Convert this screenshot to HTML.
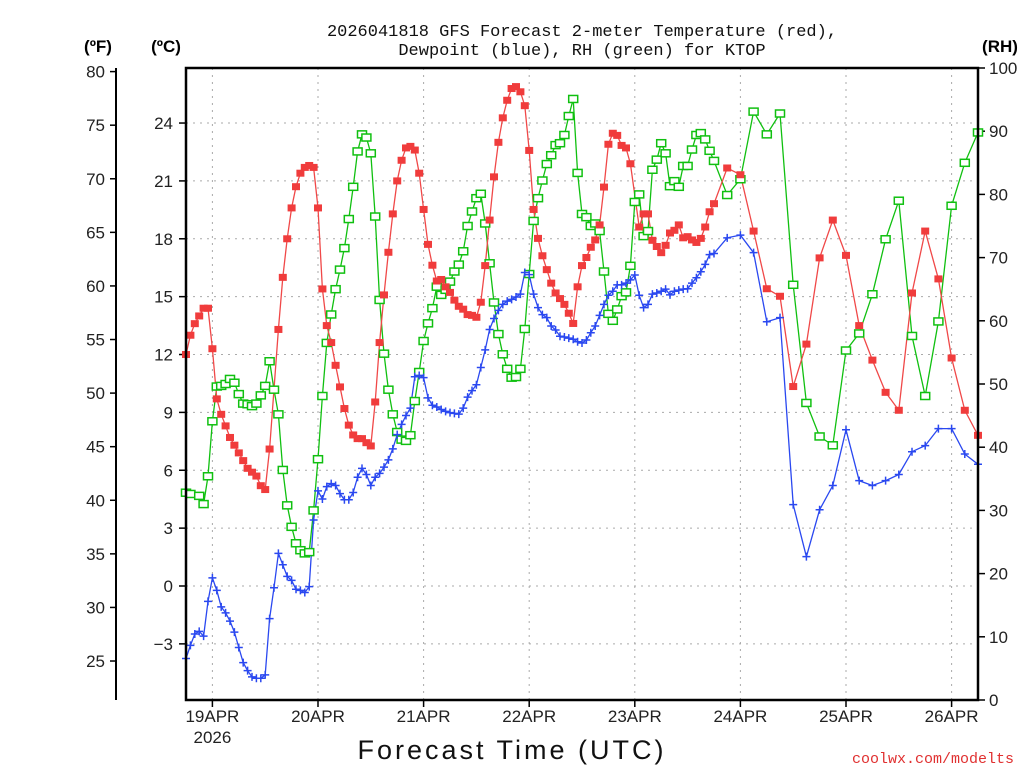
<!DOCTYPE html>
<html><head><meta charset="utf-8"><style>
body{margin:0;background:#fff;}
svg{display:block;font-family:"Liberation Sans",sans-serif;}
</style></head><body>
<svg id="chart" width="1024" height="768" viewBox="0 0 1024 768" xmlns="http://www.w3.org/2000/svg">
<rect width="1024" height="768" fill="#fff"/>
<text x="582" y="36" font-size="17" text-anchor="middle" fill="#111" font-family="Liberation Mono, monospace">2026041818 GFS Forecast 2-meter Temperature (red),</text>
<text x="582" y="55" font-size="17" text-anchor="middle" fill="#111" font-family="Liberation Mono, monospace">Dewpoint (blue), RH (green) for KTOP</text>
<text x="98" y="52" font-size="17" font-weight="bold" text-anchor="middle">(ºF)</text>
<text x="166" y="52" font-size="17" font-weight="bold" text-anchor="middle">(ºC)</text>
<text x="1000" y="52" font-size="17" font-weight="bold" text-anchor="middle">(RH)</text>
<g id="grid"></g>
<g id="axes"></g>
<g id="series"></g>
<rect x="186" y="68" width="792" height="632" fill="none" stroke="#000" stroke-width="2.5"/>
<text x="512" y="759" font-size="27" text-anchor="middle" fill="#111" letter-spacing="3">Forecast Time (UTC)</text>
<text x="1014" y="763" font-size="15" text-anchor="end" fill="#e03030" font-family="Liberation Mono, monospace">coolwx.com/modelts</text>
</svg>
<script>
// ---- data ----
const tempHours=[0,1,2,3,4,5,6,7,8,9,10,11,12,13,14,15,16,17,18,19,21,22,23,24,25,26,27,28,29,30,31,32,33,34,35,36,37,38,39,40,41,42,43,44,45,46,47,48,49,50,51,52,53,54,55,56,57,58,59,60,61,62,63,64,65,66,67,68,69,70,71,72,73,74,75,76,77,78,79,80,81,82,83,84,85,86,87,88,89,90,91,92,93,94,95,96,97,98,99,100,101,103,104,105,106,107,108,109,110,111,112,113,114,115,116,117,118,119,120,123,126,129,132,135,138,141,144,147,150,153,156,159,162,165,168,171,174,177,180];
const tempC=[12.0,13.0,13.6,14.0,14.4,14.4,12.3,9.7,8.9,8.3,7.7,7.3,6.9,6.5,6.1,5.9,5.7,5.2,5.0,7.1,
13.3,16.0,18.0,19.6,20.7,21.4,21.7,21.8,21.7,19.6,15.4,13.5,
12.62,11.44,10.32,9.20,8.34,7.83,7.64,7.64,7.43,7.26,9.54,12.62,15.09,17.30,19.29,21.0,22.07,22.71,22.79,22.60,21.40,19.52,17.71,16.63,15.81,15.89,15.51,15.22,14.82,14.50,14.35,14.07,
14.03,
13.93,14.71,16.61,18.97,21.21,23.0,24.27,25.18,25.79,25.89,25.62,24.90,22.58,19.52,18.02,17.12,16.40,15.70,15.19,14.90,14.60,14.14,13.61,15.51,16.61,17.03,17.56,17.94,18.72,
20.68,22.90,23.47,23.36,22.84,22.71,21.89,
18.61,19.29,19.29,17.92,17.60,17.28,17.66,18.30,18.44,18.72,18.05,18.11,17.94,17.81,18.02,18.61,19.40,19.82,
21.67,21.32,18.40,15.41,15.02,10.34,12.54,17.01,18.97,17.14,13.50,11.71,10.04,9.11,15.19,18.40,15.92,11.82,9.11,7.81];
const rhHours=[0,1,3,4,5,6,7,8,9,10,11,12,13,14,15,16,17,18,19,20,21,22,23,24,25,26,27,28,29,30,31,32,33,34,35,36,37,38,39,40,41,42,43,44,45,46,47,48,49,50,51,52,53,54,55,56,57,58,59,60,61,62,63,64,65,66,67,68,69,70,71,72,73,74,75,76,77,78,79,80,81,82,83,84,85,86,87,88,89,90,91,92,93,94,95,96,97,98,99,100,101,102,103,104,105,106,107,108,109,110,111,112,113,114,115,116,117,118,119,120,123,126,129,132,135,138,141,144,147,150,153,156,159,162,165,168,171,174,177,180];
const rhPct=[32.8,32.6,32.3,31.0,35.4,44.1,49.6,49.7,50.0,50.8,50.2,48.4,46.9,46.8,46.5,46.9,48.2,49.7,53.6,49.1,45.2,36.4,30.8,27.4,24.8,23.7,23.2,23.4,30.0,38.1,48.1,56.5,61.0,
65.0,68.1,71.5,76.1,81.2,86.8,89.5,89.0,86.5,76.5,63.3,54.8,49.1,45.2,42.4,41.2,41.0,41.9,47.3,51.9,56.8,59.6,62.0,65.4,64.1,64.9,66.2,67.8,68.9,71.0,75.0,77.3,
79.4,80.1,75.4,69.1,62.9,57.9,54.7,52.4,51.0,51.1,52.4,58.7,67.4,75.8,79.4,82.2,84.8,86.2,87.8,88.1,89.4,92.4,95.1,83.4,76.9,76.4,75.0,75.4,74.2,67.8,61.1,
60.0,61.8,63.9,64.5,68.7,78.8,80.0,73.4,74.2,83.9,85.5,88.1,86.5,81.3,82.1,81.2,84.5,84.5,87.1,89.4,89.7,88.7,86.9,85.3,
79.9,82.4,93.1,89.5,92.8,65.7,47.0,41.7,40.3,55.3,58.0,64.2,72.9,79.0,57.6,48.1,59.9,78.2,85.0,89.8];
const dewHours=[0,1,2,3,4,5,6,7,8,9,10,11,12,13,14,15,16,17,18,19,20,21,22,23,24,25,26,27,28,29,30,31,32,33,34,35,36,37,38,39,40,41,42,43,44,45,46,47,48,49,50,51,52,53,54,55,56,57,58,59,60,61,62,63,64,65,66,67,68,69,70,71,72,73,74,75,76,77,78,79,80,81,82,83,84,85,86,87,88,89,90,91,92,93,94,95,96,97,98,99,100,101,102,103,104,105,106,107,108,109,110,111,112,113,114,115,116,117,118,119,120,123,126,129,132,135,138,141,144,147,150,153,156,159,162,165,168,171,174,177,180];
const dewC=[-3.76,-3.08,-2.49,-2.35,-2.60,-0.80,0.42,-0.23,-1.08,-1.39,-1.82,-2.39,-3.19,-3.97,-4.39,-4.71,-4.78,-4.78,-4.61,-1.69,-0.09,1.69,1.10,0.50,0.29,-0.17,-0.23,-0.34,-0.03,3.42,4.93,4.51,5.15,
5.31,5.21,4.79,4.47,4.47,4.85,5.64,6.10,5.78,5.21,5.64,5.84,6.16,6.54,7.11,7.85,8.38,8.84,9.22,10.85,10.91,10.80,9.75,9.37,9.28,9.15,9.05,8.99,8.95,8.91,9.22,
9.79,10.13,10.43,11.33,12.24,13.30,13.87,14.29,14.60,14.77,14.86,14.98,15.13,16.25,16.14,15.13,14.43,14.07,13.91,13.48,13.27,12.95,12.91,12.85,12.79,12.66,12.60,12.75,13.13,13.48,14.03,14.60,15.07,
15.28,15.61,15.61,15.70,15.87,16.12,15.07,14.43,14.60,15.13,15.19,15.28,15.39,15.09,15.28,15.34,15.39,15.41,15.70,15.98,16.29,16.67,17.18,17.24,
18.05,18.19,17.28,13.70,13.91,4.22,1.52,3.95,5.21,8.10,5.46,5.21,5.46,5.78,6.96,7.28,8.16,8.16,6.84,6.31];
const celsiusTicks=[-3,0,3,6,9,12,15,18,21,24];
const fahrenheitTicks=[25,30,35,40,45,50,55,60,65,70,75,80];
const rhTicks=[0,10,20,30,40,50,60,70,80,90,100];
const dayTicks=[6,30,54,78,102,126,150,174];
const dayLabels=["19APR","20APR","21APR","22APR","23APR","24APR","25APR","26APR"];

// ---- scales ----
const X0=186,X1=978,Y0=68,Y1=700;
const xs=h=>X0+h*(X1-X0)/180;
const yC=c=>586-c*19.29;
const yF=f=>yC((f-32)*5/9);
const yRH=r=>Y1-r*(Y1-Y0)/100;
const NS="http://www.w3.org/2000/svg";
function mk(tag,attrs,parent){const e=document.createElementNS(NS,tag);for(const k in attrs)e.setAttribute(k,attrs[k]);parent.appendChild(e);return e;}
const grid=document.getElementById('grid'),axes=document.getElementById('axes'),ser=document.getElementById('series');

celsiusTicks.forEach(c=>{
  const y=yC(c);
  const g=mk('line',{x1:X0,x2:X1,y1:y,y2:y,stroke:'#aaa','stroke-dasharray':'2 5'},grid);
  
  
  const t=mk('line',{x1:X0-7,x2:X0,y1:y,y2:y,stroke:'#000','stroke-width':1.5},axes);
  
  
  const l=mk('text',{x:173,y:y+6,'font-size':17,'text-anchor':'end',fill:'#222'},axes);
  l.textContent=(c<0?'\u2212'+(-c):String(c));
  
  
});
dayTicks.forEach((h,i)=>{
  const x=xs(h);
  const g=mk('line',{x1:x,x2:x,y1:Y0,y2:Y1,stroke:'#aaa','stroke-dasharray':'2 5'},grid);
  
  
  const t=mk('line',{x1:x,x2:x,y1:Y1,y2:Y1+7,stroke:'#000','stroke-width':1.5},axes);
  
  
  const l=mk('text',{x:x,y:722,'font-size':17,'text-anchor':'middle',fill:'#222'},axes);
  l.textContent=dayLabels[i];
  
  
});
const yr=mk('text',{x:xs(dayTicks[0]),y:743,'font-size':17,'text-anchor':'middle',fill:'#222'},axes);
yr.textContent='2026';



const fl=mk('line',{x1:116,x2:116,y1:Y0,y2:Y1,stroke:'#000','stroke-width':2},axes);


fahrenheitTicks.forEach(f=>{
  const y=yF(f);
  const t=mk('line',{x1:110,x2:116,y1:y,y2:y,stroke:'#000','stroke-width':1.5},axes);
  
  
  const l=mk('text',{x:105,y:y+6,'font-size':17,'text-anchor':'end',fill:'#222'},axes);
  l.textContent=String(f);
  
  
});
rhTicks.forEach(r=>{
  const y=yRH(r);
  const t=mk('line',{x1:X1,x2:X1+7,y1:y,y2:y,stroke:'#000','stroke-width':1.5},axes);
  
  
  const l=mk('text',{x:989,y:y+6,'font-size':17,'text-anchor':'start',fill:'#222'},axes);
  l.textContent=String(r);
  
  
});

function drawLine(hours,vals,yf,color,name){
  const pts=hours.map((h,i)=>xs(h).toFixed(1)+','+yf(vals[i]).toFixed(1)).join(' ');
  const p=mk('polyline',{points:pts,fill:'none',stroke:color,'stroke-width':1.3},ser);
  
  
}
drawLine(rhHours,rhPct,yRH,'#10c010','rh-line');
drawLine(tempHours,tempC,yC,'#f04848','temperature-line');
drawLine(dewHours,dewC,yC,'#2a48f0','dewpoint-line');

rhHours.forEach((h,i)=>{
  const m=mk('rect',{x:xs(h)-4.5,y:yRH(rhPct[i])-3.5,width:9,height:7,fill:'#fff',stroke:'#10c010','stroke-width':1.5},ser);
  
  
});
tempHours.forEach((h,i)=>{
  const m=mk('rect',{x:xs(h)-4,y:yC(tempC[i])-3.5,width:8,height:7,fill:'#f03c3c'},ser);
  
  
});
dewHours.forEach((h,i)=>{
  const x=xs(h),y=yC(dewC[i]);
  const m=mk('path',{d:`M${x-4},${y}H${x+4}M${x},${y-4}V${y+4}`,stroke:'#2a48f0','stroke-width':1.5,fill:'none'},ser);
  
  
});
</script>
</body></html>
